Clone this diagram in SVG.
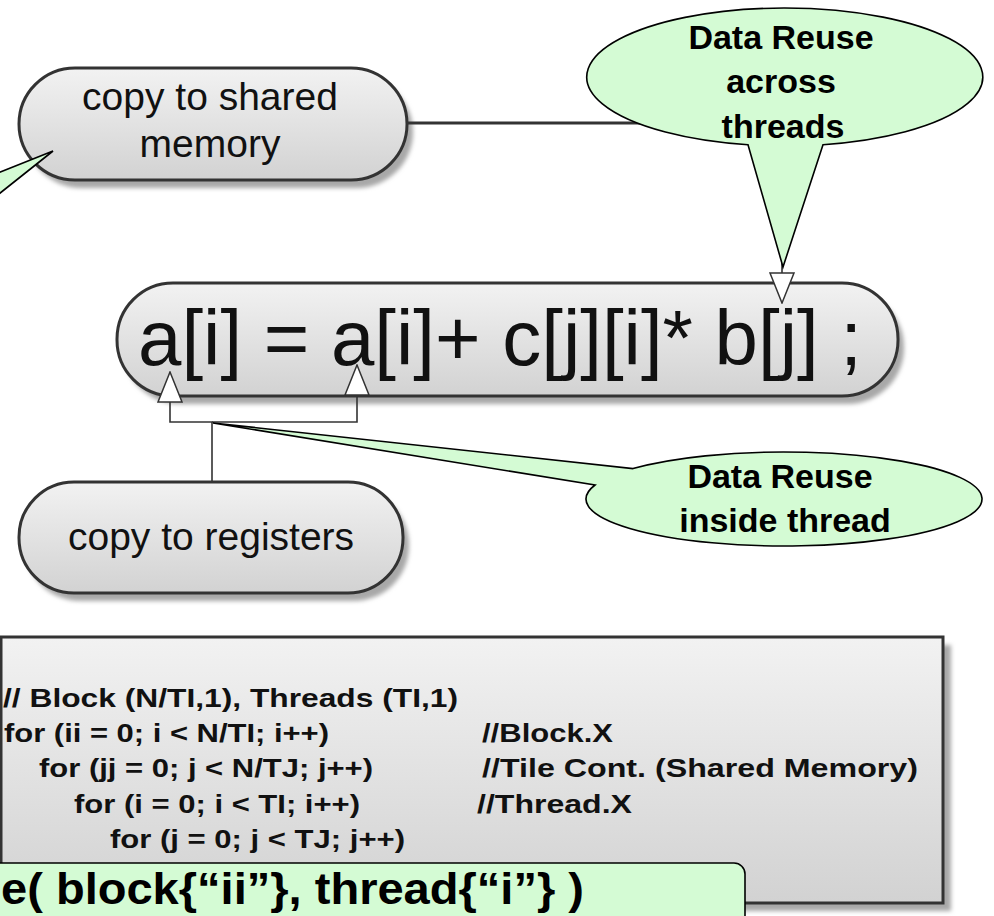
<svg xmlns="http://www.w3.org/2000/svg" width="994" height="916" viewBox="0 0 994 916">
  <defs>
    <linearGradient id="gNode" x1="0" y1="0" x2="0" y2="1">
      <stop offset="0" stop-color="#f2f2f2"/>
      <stop offset="1" stop-color="#d2d2d2"/>
    </linearGradient>
    <filter id="blur" x="-10%" y="-10%" width="120%" height="130%">
      <feGaussianBlur stdDeviation="2"/>
    </filter>
    <marker id="hollow" markerUnits="userSpaceOnUse" markerWidth="32" markerHeight="26" viewBox="0 0 32 26" refX="31" refY="13" orient="auto">
      <path d="M1,1 L31,13 L1,25 Z" fill="#ffffff" stroke="#333333" stroke-width="1.5"/>
    </marker>
    <style>
      .node { fill: url(#gNode); stroke: #333333; stroke-width: 3; }
      .shadow { fill: #a8a8a8; filter: url(#blur); }
      .ntext { font-family: "Liberation Sans", Arial, sans-serif; fill: #111111; text-anchor: middle; }
      .conn { fill: none; stroke: #333333; stroke-width: 1.6; }
      .callout { fill: #d4fbd4; stroke: #000000; stroke-width: 1.6; stroke-linejoin: miter; }
      .ctext { font-family: "Liberation Sans", Arial, sans-serif; font-weight: bold; font-size: 34px; fill: #000000; text-anchor: middle; }
      .code { font-family: "Liberation Sans", Arial, sans-serif; font-weight: bold; font-size: 25px; fill: #111111; }
    </style>
  </defs>

  <rect x="0" y="0" width="994" height="916" fill="#ffffff"/>

  <!-- code box -->
  <g id="code-box">
    <rect x="9" y="645" width="942" height="266" class="shadow"/>
    <rect x="1" y="637" width="942" height="266" class="node"/>
    <text class="code" x="3" y="707" textLength="455" lengthAdjust="spacingAndGlyphs">// Block (N/TI,1), Threads (TI,1)</text>
    <text class="code" x="4" y="742" textLength="325" lengthAdjust="spacingAndGlyphs">for (ii = 0; i &lt; N/TI; i++)</text>
    <text class="code" x="39" y="777" textLength="334" lengthAdjust="spacingAndGlyphs">for (jj = 0; j &lt; N/TJ; j++)</text>
    <text class="code" x="74" y="813" textLength="286" lengthAdjust="spacingAndGlyphs">for (i = 0; i &lt; TI; i++)</text>
    <text class="code" x="110" y="848" textLength="295" lengthAdjust="spacingAndGlyphs">for (j = 0; j &lt; TJ; j++)</text>
    <text class="code" x="482" y="742" textLength="131" lengthAdjust="spacingAndGlyphs">//Block.X</text>
    <text class="code" x="482" y="777" textLength="436" lengthAdjust="spacingAndGlyphs">//Tile Cont. (Shared Memory)</text>
    <text class="code" x="477" y="813" textLength="155" lengthAdjust="spacingAndGlyphs">//Thread.X</text>
  </g>

  <!-- green bottom box -->
  <g id="schedule-box">
    <rect x="-12" y="863" width="757" height="80" rx="11" ry="11" fill="#d4fbd4" stroke="#000000" stroke-width="1.6"/>
    <text x="1" y="904" font-family="Liberation Sans, Arial, sans-serif" font-weight="bold" font-size="45" fill="#000000" textLength="583" lengthAdjust="spacingAndGlyphs">e( block{“ii”}, thread{“i”} )</text>
  </g>

  <!-- nodes -->
  <g id="node-shared">
    <rect x="25" y="76" width="388" height="112" rx="56" ry="56" class="shadow"/>
    <rect x="19" y="68" width="388" height="112" rx="56" ry="56" class="node"/>
    <text class="ntext" x="210" y="110" font-size="39">copy to shared</text>
    <text class="ntext" x="210" y="157" font-size="39">memory</text>
  </g>

  <g id="node-stmt">
    <rect x="123" y="291" width="781" height="113" rx="56" ry="56" class="shadow"/>
    <rect x="117" y="283" width="781" height="113" rx="56" ry="56" class="node"/>
    <text x="138" y="365" font-family="Liberation Sans, Arial, sans-serif" font-size="78" fill="#111111">a[i] = a[i]+ c[j][i]* b[j] ;</text>
  </g>

  <g id="node-registers">
    <rect x="25" y="490" width="384" height="111" rx="55" ry="55" class="shadow"/>
    <rect x="19" y="482" width="384" height="111" rx="55" ry="55" class="node"/>
    <text class="ntext" x="211" y="550" font-size="39">copy to registers</text>
  </g>

  <!-- connectors -->
  <g id="connectors">
    <path d="M407,123 H782" fill="none" stroke="#333333" stroke-width="3"/>
    <path d="M782,123 V303" class="conn" marker-end="url(#hollow)"/>
    <path d="M212,482 V422 H170 V372" class="conn" marker-end="url(#hollow)"/>
    <path d="M212,422 H357 V365" class="conn" marker-end="url(#hollow)"/>
  </g>

  <!-- callouts -->
  <g id="callout-across">
    <path class="callout" d="M748,144.8 A198,69 0 1 1 823,144.7 L783,267 Z"/>
    <text class="ctext" x="781" y="49">Data Reuse</text>
    <text class="ctext" x="781" y="93">across</text>
    <text class="ctext" x="783" y="138">threads</text>
  </g>

  <g id="callout-inside">
    <path class="callout" d="M633,468.6 A198,47 0 1 1 595,485 L213,423 Z"/>
    <text class="ctext" x="780" y="488">Data Reuse</text>
    <text class="ctext" x="785" y="532">inside thread</text>
  </g>

  <g id="callout-left">
    <path class="callout" d="M53,151 L-20,180 L-20,209 Z"/>
  </g>
</svg>
